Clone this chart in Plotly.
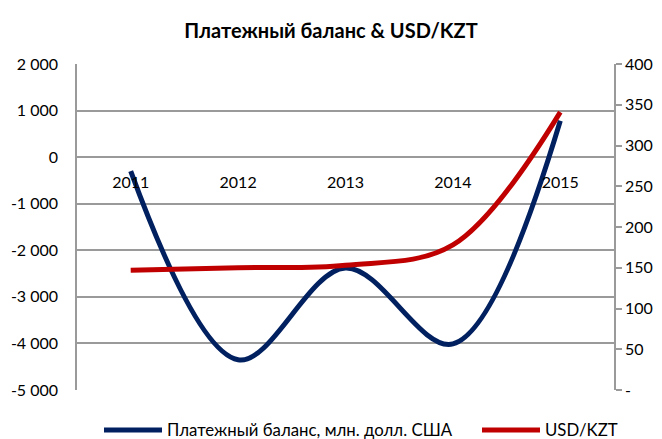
import plotly.graph_objects as go

years = ["2011", "2012", "2013", "2014", "2015"]
balance = [-300, -4350, -2380, -4010, 780]
usdkzt = [147, 150, 153, 178, 341]

left_ticks = [-5000, -4000, -3000, -2000, -1000, 0, 1000, 2000]
left_labels = ["-5 000", "-4 000", "-3 000", "-2 000", "-1 000", "0", "1 000", "2 000"]
right_ticks = [0, 50, 100, 150, 200, 250, 300, 350, 400]
right_labels = ["-", "50", "100", "150", "200", "250", "300", "350", "400"]

FONT = "Lato"
grid = "#9A9A9A"

fig = go.Figure()
fig.add_trace(go.Scatter(
    x=years, y=balance, mode="lines", name="Платежный баланс, млн. долл. США",
    line=dict(color="#002060", width=5, shape="spline", smoothing=1.0),
    yaxis="y", legend="legend"))
fig.add_trace(go.Scatter(
    x=years, y=usdkzt, mode="lines", name="USD/KZT",
    line=dict(color="#C00000", width=5, shape="spline", smoothing=1.0),
    yaxis="y2", legend="legend2"))

ymin, ymax = left_ticks[0], left_ticks[-1]
zero_pos = (0 - ymin) / (ymax - ymin)

leg_common = dict(orientation="h", xanchor="left", xref="container",
                  y=1 - 430 / 439, yanchor="middle", yref="container",
                  font=dict(family=FONT, size=16.8), itemwidth=58,
                  bgcolor="rgba(0,0,0,0)")

fig.update_layout(
    width=662, height=439,
    margin=dict(l=77, r=48, t=64, b=49),
    paper_bgcolor="white", plot_bgcolor="white",
    font=dict(family=FONT, size=16, color="#000000"),
    title=dict(text="<b>Платежный баланс & USD/KZT</b>", x=0.5, xanchor="center",
               xref="container", yref="container", y=1 - 31 / 439, yanchor="middle",
               font=dict(family=FONT, size=20)),
    showlegend=True,
    legend=dict(x=99 / 662, **leg_common),
    legend2=dict(x=477 / 662, **leg_common),
    xaxis=dict(type="category", range=[-0.5, 4.5], anchor="free", position=zero_pos,
               showline=False, showgrid=False, zeroline=False, ticks="",
               automargin=False, ticklabelstandoff=14),
    yaxis=dict(range=[ymin, ymax], tickvals=left_ticks, ticktext=left_labels,
               showgrid=True, gridcolor=grid, gridwidth=1.5, zeroline=True,
               zerolinecolor=grid, zerolinewidth=1.5, automargin=False,
               showline=True, linecolor=grid, linewidth=1.5, ticks="",
               ticklabelstandoff=14),
    yaxis2=dict(range=[0, 400], tickvals=right_ticks, ticktext=right_labels,
                overlaying="y", side="right", showgrid=False, zeroline=False,
                showline=True, linecolor=grid, linewidth=1.5, automargin=False,
                ticks="outside", ticklen=6, tickcolor=grid, tickwidth=1.5),
)

fig.write_html("out.html", config={"displayModeBar": False},
               post_script="document.body.style.margin='0';")
